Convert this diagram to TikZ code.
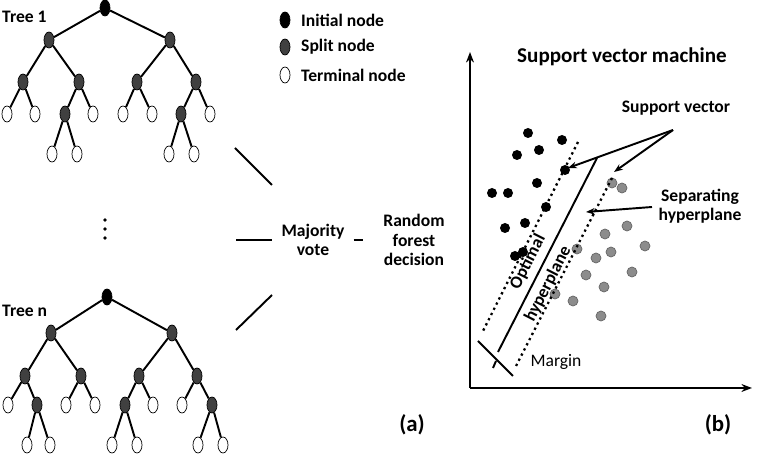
\documentclass[tikz,border=0pt]{standalone}
\usepackage{fontspec}
\setmainfont{Carlito}
\usetikzlibrary{shapes.geometric,arrows.meta}
\tikzset{
  init/.style={ellipse,draw,fill=black,inner sep=0,minimum width=0.2cm,minimum height=0.32cm},
  split/.style={ellipse,draw,fill=black!75,inner sep=0,minimum width=0.2cm,minimum height=0.32cm},
  term/.style={ellipse,draw,fill=white,inner sep=0,minimum width=0.2cm,minimum height=0.32cm},
  edge/.style={line width=1.1pt},
  bdot/.style={circle,fill=black,inner sep=0,minimum size=0.2cm},
  gdot/.style={circle,fill=black!45,draw=black!60,inner sep=0,minimum size=0.2cm},
  lbl/.style={font=\bfseries\fontsize{10}{11}\selectfont,align=center}
}
\begin{document}
\begin{tikzpicture}[x=0.02cm,y=-0.02cm]
  \useasboundingbox (0,0) rectangle (758,472);
  % tree 1
  \node[init] (r1) at (105,8) {};
  \node[split] (a1) at (49,40) {};   \node[split] (b1) at (170,40) {};
  \node[split] (c1) at (23,82) {};   \node[split] (d1) at (79,82) {};
  \node[split] (e1) at (137,82) {};  \node[split] (f1) at (196,82) {};
  \node[term] (g1) at (7,114) {};    \node[term] (h1) at (35,114) {};
  \node[split] (i1) at (65,114) {};  \node[term] (j1) at (93,114) {};
  \node[term] (k1) at (123,114) {};  \node[term] (l1) at (152,114) {};
  \node[split] (m1) at (181,114) {}; \node[term] (n1) at (210,114) {};
  \node[term] (o1) at (52,154) {};   \node[term] (p1) at (77,154) {};
  \node[term] (q1) at (169,154) {};  \node[term] (s1) at (194,154) {};
  \foreach \u/\v in {r1/a1,r1/b1,a1/c1,a1/d1,b1/e1,b1/f1,c1/g1,c1/h1,d1/i1,d1/j1,
    e1/k1,e1/l1,f1/m1,f1/n1,i1/o1,i1/p1,m1/q1,m1/s1}
    \draw[edge] (\u) -- (\v);
  \node[lbl,anchor=west] (t1) at (-4,17) {Tree 1};

  % tree n
  \node[init] (rn) at (107,297) {};
  \node[split] (an) at (51,333) {};   \node[split] (bn) at (172,333) {};
  \node[split] (cn) at (25,376) {};   \node[split] (dn) at (81,376) {};
  \node[split] (en) at (139,376) {};  \node[split] (fn) at (197,376) {};
  \node[term] (gn) at (8,405) {};     \node[split] (hn) at (37,405) {};
  \node[term] (in) at (66,405) {};    \node[term] (jn) at (95,405) {};
  \node[split] (kn) at (125,405) {};  \node[term] (ln) at (153,405) {};
  \node[term] (mn) at (182,405) {};   \node[split] (nn) at (212,405) {};
  \node[term] (on) at (27,445) {};    \node[term] (pn) at (50,445) {};
  \node[term] (qn) at (112,445) {};   \node[term] (sn) at (137,445) {};
  \node[term] (un) at (198,445) {};   \node[term] (vn) at (223,445) {};
  \foreach \u/\v in {rn/an,rn/bn,an/cn,an/dn,bn/en,bn/fn,cn/gn,cn/hn,dn/in,dn/jn,
    en/kn,en/ln,fn/mn,fn/nn,hn/on,hn/pn,kn/qn,kn/sn,nn/un,nn/vn}
    \draw[edge] (\u) -- (\v);
  \node[lbl,anchor=west] (tn) at (-4,311) {Tree n};

  % dots between trees
  \foreach \y in {220,229,238}
    \fill (105,\y) circle (1.8);

  % legend
  \node[init] (li) at (285,20) {};  \node[lbl,anchor=west] at (295,20) {Initial node};
  \node[split] (ls) at (285,47) {}; \node[lbl,anchor=west] at (295,47) {Split node};
  \node[term] (lt) at (285,75) {};  \node[lbl,anchor=west] at (295,75) {Terminal node};

  % voting
  \coordinate (v1) at (235,148); \coordinate (w1) at (272,185);
  \coordinate (v2) at (236,240); \coordinate (w2) at (272,240);
  \coordinate (v3) at (236,330); \coordinate (w3) at (272,295);
  \draw[edge] (v1) -- (w1); \draw[edge] (v2) -- (w2); \draw[edge] (v3) -- (w3);
  \node[lbl] (mv) at (313,240) {Majority\\vote};
  \node[lbl] (rf) at (414,240) {Random\\forest\\decision};
  \draw[edge] (mv.east) ++(3,0) -- ++(9,0);
  \node[lbl,font=\bfseries\fontsize{13}{14}\selectfont] at (412,425) {(a)};
  \node[lbl,font=\bfseries\fontsize{13}{14}\selectfont] at (718,425) {(b)};

  % svm
  \node[lbl,font=\bfseries\fontsize{12}{13}\selectfont] (st) at (622,57) {Support vector machine};
  \coordinate (o) at (470,388);
  \draw[edge,-{Stealth[length=6pt]}] (o) -- (470,52);
  \draw[edge,-{Stealth[length=6pt]}] (o) -- (752,388);
  \foreach \p in {(528,133),(562,140),(517,155),(539,150),(565,170),(492,193),(508,193),
    (537,183),(546,207),(505,228),(525,223),(515,256),(523,252)}
    \node[bdot] at \p {};
  \foreach \p in {(612,183),(622,188),(627,226),(605,234),(645,246),(577,249),(596,258),
    (611,252),(632,272),(586,275),(604,287),(555,294),(573,301),(601,316)}
    \node[gdot] at \p {};
  \draw[line width=1.3pt,dotted] (578,142) -- (482,333);
  \draw[line width=1.3pt,dotted] (612,178) -- (515,368);
  \draw[edge] (597,158) -- (498,352);
  \draw[edge] (478,341) -- (513,376);
  \draw[edge] (493,368) -- (496,361);
  \node[lbl,rotate=63] at (528,262) {Optimal};
  \node[lbl,rotate=63] at (548,284) {hyperplane};
  \node[lbl,font=\fontsize{10}{11}\selectfont] at (556,362) {Margin};
  \node[lbl] (sv) at (676,108) {Support vector};
  \coordinate (apex) at (673,130);
  \draw[edge,-{Stealth[length=5pt]}] (apex) -- (568,168);
  \draw[edge,-{Stealth[length=5pt]}] (apex) -- (614,172);
  \node[lbl] (sh) at (700,206) {Separating\\hyperplane};
  \draw[edge,-{Stealth[length=5pt]}] (652,207) -- (586,212);
\end{tikzpicture}
\end{document}
